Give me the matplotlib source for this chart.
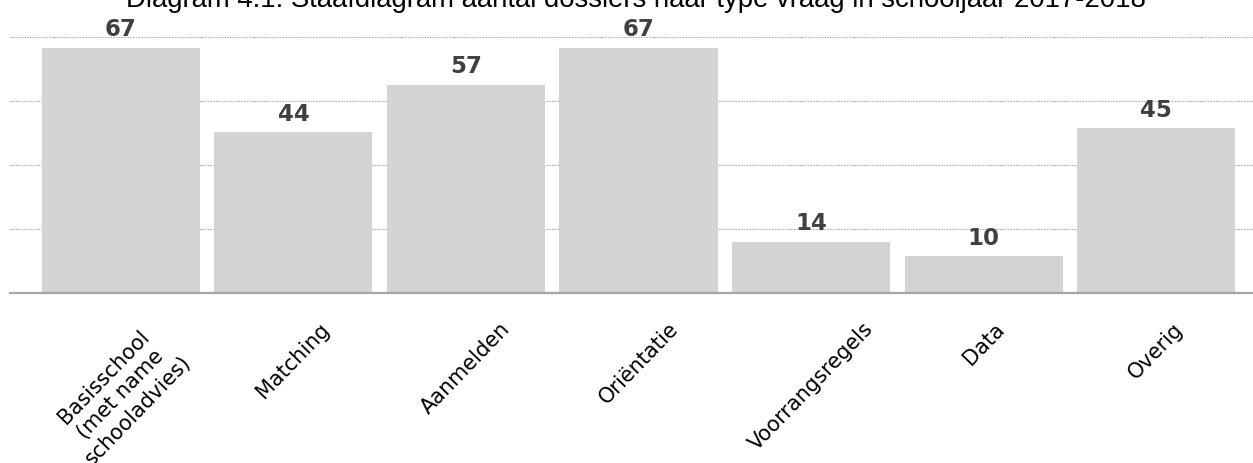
import matplotlib.pyplot as plt
from matplotlib.ticker import FixedLocator

categories = ['Basisschool\n(met name\nschooladvies)', 'Matching', 'Aanmelden',
              'Oriëntatie', 'Voorrangsregels', 'Data', 'Overig']
counts = [67, 44, 57, 67, 14, 10, 45]
grid_levels = [17.5, 35, 52.5, 70]

title = 'Diagram 4.1: Staafdiagram aantal dossiers naar type vraag in schooljaar 2017-2018'

fig = plt.figure(figsize=(12.53, 4.64), dpi=100)
ax = fig.add_axes([10 / 1253, 1 - 294 / 464, 1 - 10 / 1253, (294 - 38) / 464])

x = range(len(categories))
bars = ax.bar(x, counts, width=0.916, color='#d4d4d4', zorder=2)

# value above each bar
for b, v in zip(bars, counts):
    ax.annotate(str(v), (b.get_x() + b.get_width() / 2, v),
                xytext=(0, 9), textcoords='offset points',
                ha='center', va='baseline', fontsize=16.5, fontweight='bold',
                color='#404040')

ax.set_xlim(-0.643, 6.562)
ax.set_ylim(0, 70)
ax.yaxis.set_major_locator(FixedLocator(grid_levels))
ax.set_yticklabels([])
ax.tick_params(axis='y', length=0)
ax.grid(axis='y', color='#b0b0b0', linewidth=0.8, linestyle=(0, (1.5, 1)), zorder=0)
ax.set_axisbelow(True)

ax.set_xticks(list(x))
ax.set_xticklabels(categories, rotation=46, ha='center', va='top',
                   fontsize=15, linespacing=1.25)
ax.tick_params(axis='x', length=0, pad=18)

for s in ['top', 'left', 'right']:
    ax.spines[s].set_visible(False)
ax.spines['bottom'].set_color('#a6a6a6')
ax.spines['bottom'].set_linewidth(1.6)

fig.text(636 / 1253, 1 - 7 / 464, title, ha='center', va='baseline',
         fontsize=19.8, family='Liberation Sans')

fig.savefig('out.png', dpi=100)
